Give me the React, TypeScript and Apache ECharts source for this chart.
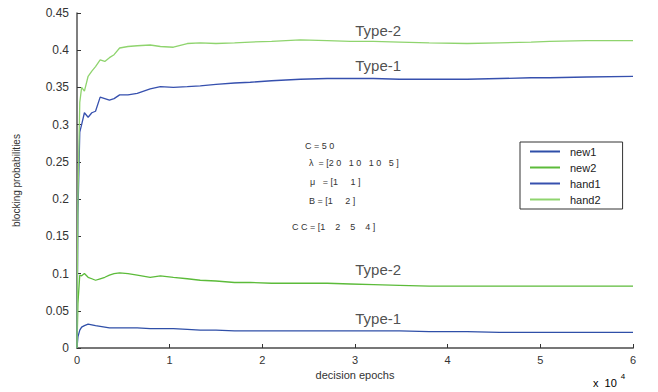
import React, { useEffect, useRef } from "react";
import * as echarts from "echarts";

// decision epochs (x 10^4)
const epochs = [0, 0.01, 0.03, 0.05, 0.08, 0.12, 0.16, 0.2, 0.25, 0.3, 0.35, 0.4, 0.46, 0.55, 0.65, 0.79, 0.9, 1.04, 1.19, 1.33, 1.5, 1.7, 1.87, 2.1, 2.41, 2.7, 2.95, 3.2, 3.48, 3.8, 4.21, 4.56, 4.9, 5.1, 5.5, 6.0];

const new1 = [0, 0.015, 0.024, 0.028, 0.03, 0.032, 0.031, 0.03, 0.029, 0.028, 0.027, 0.027, 0.027, 0.027, 0.027, 0.026, 0.026, 0.026, 0.025, 0.024, 0.024, 0.023, 0.023, 0.023, 0.023, 0.023, 0.023, 0.023, 0.023, 0.022, 0.022, 0.021, 0.021, 0.021, 0.021, 0.021];
const new2 = [0, 0.06, 0.098, 0.097, 0.1, 0.095, 0.093, 0.091, 0.093, 0.095, 0.098, 0.1, 0.101, 0.1, 0.098, 0.095, 0.097, 0.095, 0.093, 0.091, 0.09, 0.088, 0.088, 0.087, 0.087, 0.087, 0.086, 0.085, 0.084, 0.083, 0.083, 0.083, 0.083, 0.083, 0.083, 0.083];
const hand1 = [0, 0.18, 0.29, 0.3, 0.316, 0.31, 0.316, 0.318, 0.337, 0.335, 0.333, 0.335, 0.34, 0.34, 0.342, 0.348, 0.351, 0.35, 0.351, 0.352, 0.354, 0.356, 0.357, 0.359, 0.361, 0.362, 0.362, 0.362, 0.361, 0.361, 0.361, 0.362, 0.363, 0.363, 0.364, 0.365];
const hand2 = [0, 0.2, 0.33, 0.35, 0.345, 0.365, 0.372, 0.378, 0.387, 0.385, 0.39, 0.394, 0.403, 0.405, 0.406, 0.407, 0.405, 0.404, 0.409, 0.41, 0.409, 0.41, 0.411, 0.412, 0.414, 0.413, 0.412, 0.412, 0.411, 0.41, 0.409, 0.41, 0.411, 0.412, 0.413, 0.413];

const seriesNames = ["new1", "new2", "hand1", "hand2"];
const seriesColors = ["#2f4fa8", "#5cbb3a", "#3650ae", "#8fd46e"];

const typeLabels = [
  { text: "Type-2", x: 3.25, y: 0.427 },
  { text: "Type-1", x: 3.25, y: 0.38 },
  { text: "Type-2", x: 3.25, y: 0.105 },
  { text: "Type-1", x: 3.25, y: 0.04 },
];

const paramLines = ["C = 5 0", "λ  = [2 0   1 0   1 0   5 ]", "μ   = [1     1 ]", "B = [1     2 ]", "C C = [1    2    5    4 ]"];

export default function App() {
  const ref = useRef<HTMLDivElement>(null);
  useEffect(() => {
    document.body.style.margin = "0";
    if (!ref.current) return;
    const chart = echarts.init(ref.current, null, { renderer: "svg" });
    const all = [new1, new2, hand1, hand2];
    const font = "Liberation Sans, Arial, sans-serif";
    const paramPos = [
      [305, 141],
      [309, 158],
      [310, 177],
      [309, 196],
      [292, 222],
    ];
    chart.setOption({
      animation: false,
      backgroundColor: "#ffffff",
      grid: { left: 77, right: 25, top: 13, bottom: 44 },
      legend: {
        orient: "vertical",
        left: 520,
        top: 142,
        width: 110,
        padding: [4, 22, 4, 10],
        borderColor: "#333",
        borderWidth: 1,
        itemWidth: 30,
        itemHeight: 2,
        itemGap: 5,
        icon: "rect",
        textStyle: { fontFamily: font, fontSize: 11, color: "#222", padding: [0, 0, 0, 5] },
        data: seriesNames,
      },
      xAxis: {
        type: "value",
        min: 0,
        max: 6,
        interval: 1,
        name: "decision epochs",
        nameLocation: "middle",
        nameGap: 16,
        nameTextStyle: { fontFamily: font, fontSize: 11, color: "#333" },
        axisLine: { lineStyle: { color: "#777", width: 2 } },
        axisTick: { inside: true, length: 4, lineStyle: { color: "#333" } },
        axisLabel: { fontFamily: font, fontSize: 11, color: "#333", margin: 6 },
        splitLine: { show: false },
      },
      yAxis: {
        type: "value",
        min: 0,
        max: 0.45,
        interval: 0.05,
        name: "blocking probabilities",
        nameLocation: "middle",
        nameGap: 56,
        nameTextStyle: { fontFamily: font, fontSize: 10, color: "#333" },
        axisLine: { show: true, lineStyle: { color: "#555", width: 1.5 } },
        axisTick: { show: true, inside: true, length: 4, lineStyle: { color: "#333" } },
        axisLabel: {
          fontFamily: font,
          fontSize: 12,
          color: "#333",
          margin: 8,
          formatter: (v: number) => String(Math.round(v * 100) / 100),
        },
        splitLine: { show: false },
      },
      series: seriesNames.map((name, i) => ({
        name,
        type: "line",
        symbol: "none",
        color: seriesColors[i],
        lineStyle: { width: 1.3, color: seriesColors[i] },
        data: epochs.map((x, j) => [x, all[i][j]]),
      })).concat([
        {
          name: "labels",
          type: "scatter",
          symbolSize: 0,
          data: typeLabels.map((t) => [t.x, t.y]),
          label: {
            show: true,
            position: "inside",
            fontFamily: font,
            fontSize: 15,
            color: "#222",
            formatter: (p: any) => typeLabels[p.dataIndex].text,
          },
          silent: true,
        } as any,
      ]),
      graphic: [
        ...paramLines.map((t, i) => ({
          type: "text",
          left: paramPos[i][0],
          top: paramPos[i][1],
          style: { text: t, font: `9px ${font}`, fill: "#333" },
        })),
        {
          type: "text",
          left: 593,
          top: 372,
          style: {
            text: "{a|x  10}{b|4}",
            rich: {
              a: { fontFamily: font, fontSize: 11, color: "#333", padding: [8, 0, 0, 0] },
              b: { fontFamily: font, fontSize: 8, color: "#333", padding: [0, 0, 6, 4] },
            },
          },
        },
      ],
    });
    return () => chart.dispose();
  }, []);
  return <div ref={ref} style={{ width: 658, height: 392 }} />;
}
